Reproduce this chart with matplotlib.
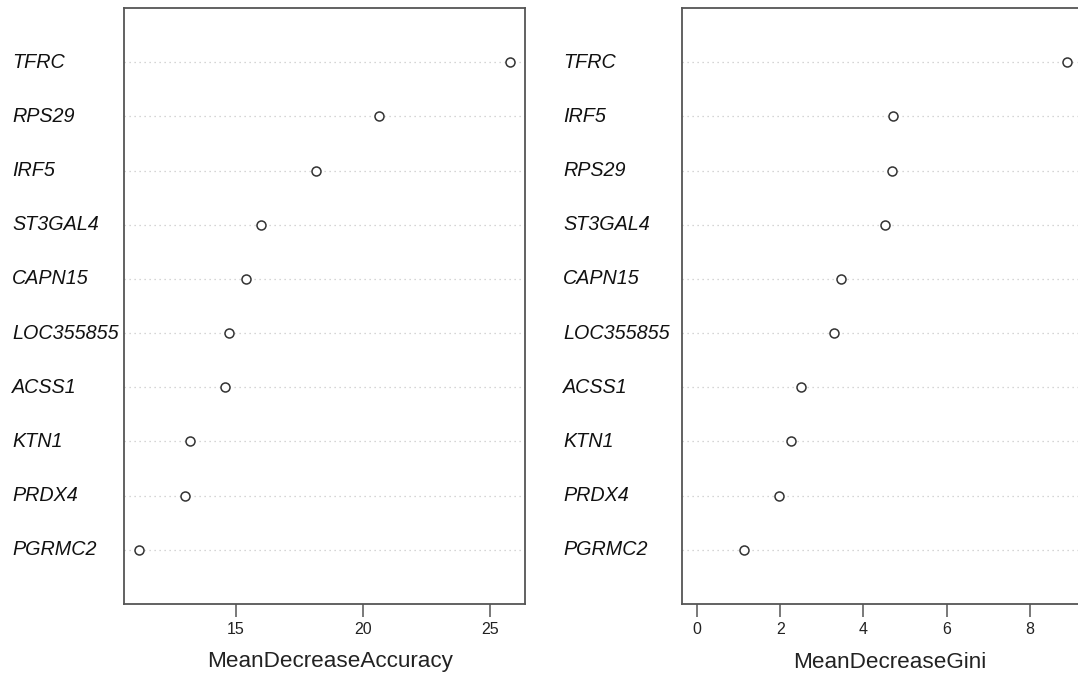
import matplotlib
matplotlib.use("Agg")
import matplotlib.pyplot as plt

genes_acc = ["TFRC", "RPS29", "IRF5", "ST3GAL4", "CAPN15", "LOC355855",
             "ACSS1", "KTN1", "PRDX4", "PGRMC2"]
acc_values = [25.79, 20.63, 18.15, 15.98, 15.39, 14.72, 14.57, 13.19, 12.99, 11.18]

genes_gini = ["TFRC", "IRF5", "RPS29", "ST3GAL4", "CAPN15", "LOC355855",
              "ACSS1", "KTN1", "PRDX4", "PGRMC2"]
gini_values = [8.89, 4.71, 4.69, 4.52, 3.46, 3.30, 2.50, 2.26, 1.98, 1.14]

acc_ticks = [15, 20, 25]
gini_ticks = [0, 2, 4, 6, 8]

W, H = 1078, 677
fig = plt.figure(figsize=(W / 100, H / 100), dpi=100)

def panel(left_px, right_px, label_x_px, genes, values, ticks, xlabel, xmin, xlab_center_px):
    ax = fig.add_axes([left_px / W, 1 - 604 / H, (right_px - left_px) / W, (604 - 8) / H])
    n = len(genes)
    ypos = list(range(n, 0, -1))
    lo = xmin if xmin is not None else min(values)
    hi = max(values)
    ext = (hi - lo) * 0.04
    ax.set_xlim(lo - ext, hi + ext)
    ax.set_ylim(0, n + 1)
    for y in ypos:
        ax.axhline(y, color="#c8c8c8", lw=0.9, ls=(0, (1, 3)), zorder=1)
    ax.scatter(values, ypos, s=42, facecolors="white", edgecolors="#333333",
               linewidths=1.1, zorder=3)
    ax.set_yticks([])
    ax.set_xticks(ticks)
    ax.set_xticklabels([str(t) for t in ticks], fontsize=11.5, family="Liberation Sans",
                       color="#222222")
    ax.tick_params(axis="x", length=9, width=1.1, color="#555555", pad=4)
    for s in ax.spines.values():
        s.set_color("#555555")
        s.set_linewidth(1.3)
    ax.set_xlabel(xlabel, fontsize=16.2, family="Liberation Sans", color="#222222")
    ax.xaxis.set_label_coords((xlab_center_px - left_px) / (right_px - left_px),
                              -(662 - 604) / 596, transform=ax.transAxes)
    ax.xaxis.label.set_va("center")
    for g, y in zip(genes, ypos):
        yy = 1 - (8 + (n + 1 - y) * (596 / (n + 1))) / H
        fig.text(label_x_px / W, yy, g, fontsize=14.2, style="italic",
                 family="Liberation Sans", ha="left", va="center", color="#111111")
    return ax

panel(124, 525, 12, genes_acc, acc_values, acc_ticks, "MeanDecreaseAccuracy", None, 330)
panel(682, 1082, 563, genes_gini, gini_values, gini_ticks, "MeanDecreaseGini", 0, 890)

fig.savefig("out.png", dpi=100)
